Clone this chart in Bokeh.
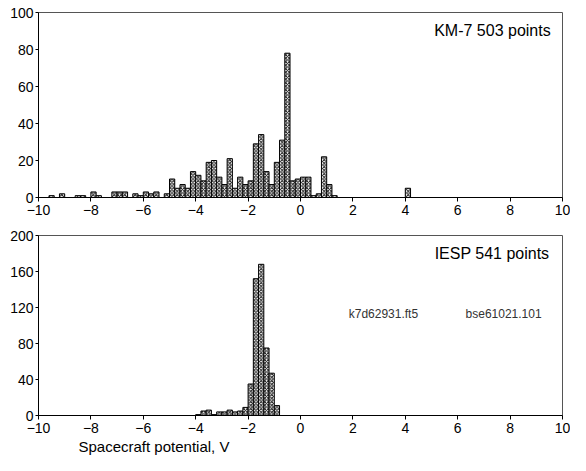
from bokeh.plotting import figure
from bokeh.layouts import column
from bokeh.models import Range1d, FixedTicker, Label, Title
from bokeh.embed import file_html
from bokeh.resources import INLINE

# --- data: bin centres (bin width 0.2 V) and counts ---
km7_centers = [-9.5, -9.1, -8.5, -8.3, -7.9, -7.7, -7.1, -6.9, -6.7, -6.3, -6.1, -5.9,
               -5.7, -5.5, -5.1, -4.9, -4.7, -4.5, -4.3, -4.1, -3.9, -3.7, -3.5, -3.3,
               -3.1, -2.9, -2.7, -2.5, -2.3, -2.1, -1.9, -1.7, -1.5, -1.3, -1.1, -0.9,
               -0.7, -0.5, -0.3, -0.1, 0.1, 0.3, 0.5, 0.7, 0.9, 1.1, 1.3, 4.1]
km7_counts = [1, 2, 1, 1, 3, 1, 3, 3, 3, 2, 1, 3,
              2, 3, 2, 10, 5, 7, 5, 14, 12, 9, 19, 20,
              11, 7, 21, 5, 11, 7, 9, 29, 34, 14, 7, 19,
              31, 78, 9, 10, 11, 11, 1, 2, 22, 7, 1, 5]

iesp_centers = [-3.9, -3.7, -3.5, -3.3, -3.1, -2.9, -2.7, -2.5, -2.3, -2.1,
                -1.9, -1.7, -1.5, -1.3, -1.1, -0.9]
iesp_counts = [1, 5, 6, 1, 4, 4, 6, 4, 5, 9,
               35, 152, 168, 75, 47, 11]

bin_width = 0.2
x_ticks = [-10, -8, -6, -4, -2, 0, 2, 4, 6, 8, 10]
km7_y_ticks = [0, 20, 40, 60, 80, 100]
iesp_y_ticks = [0, 40, 80, 120, 160, 200]

km7_title = "KM-7 503 points"
iesp_title = "IESP 541 points"
file1 = "k7d62931.ft5"
file2 = "bse61021.101"
x_label = "Spacecraft potential, V"

FONT = "Liberation Sans"


def make_fig(height, ymax, yticks, border_top, border_bottom):
    p = figure(width=570, height=height, output_backend="svg", toolbar_location=None,
               x_range=Range1d(-10, 10), y_range=Range1d(0, ymax),
               min_border_left=38, min_border_right=8,
               min_border_top=border_top, min_border_bottom=border_bottom)
    p.grid.visible = False
    p.outline_line_color = "#555555"
    p.outline_line_width = 1
    p.background_fill_color = "white"
    p.border_fill_color = "white"
    for ax in (p.xaxis[0], p.yaxis[0]):
        ax.axis_line_color = "black"
        ax.major_tick_line_color = "black"
        ax.minor_tick_line_color = None
        ax.major_label_text_font = FONT
        ax.major_label_text_font_size = "14px"
        ax.major_label_text_color = "black"
        ax.major_tick_in = 0
    p.xaxis.ticker = FixedTicker(ticks=x_ticks)
    p.yaxis.ticker = FixedTicker(ticks=yticks)
    p.xaxis.major_tick_out = 4
    p.xaxis.major_label_standoff = 3
    p.yaxis.major_tick_out = 3
    p.yaxis.major_label_standoff = 2
    return p


def bars(p, centers, counts):
    p.vbar(x=centers, width=bin_width, top=counts, bottom=0,
           fill_color="white", line_color="black", line_width=1,
           hatch_pattern="diagonal_cross", hatch_scale=3.5, hatch_weight=1,
           hatch_color="#111111")


top = make_fig(228, 100, km7_y_ticks, 12, 31)
bars(top, km7_centers, km7_counts)
top.add_layout(Label(x=9.55, y=94.6, text=km7_title, text_align="right",
                     text_baseline="top", text_font=FONT, text_font_size="16px",
                     text_color="black"))

bot = make_fig(227, 200, iesp_y_ticks, 7, 40)
bars(bot, iesp_centers, iesp_counts)
bot.add_layout(Label(x=9.5, y=190, text=iesp_title, text_align="right",
                     text_baseline="top", text_font=FONT, text_font_size="16px",
                     text_color="black"))
bot.add_layout(Label(x=1.84, y=113, text=file1, text_align="left",
                     text_baseline="alphabetic", text_font=FONT,
                     text_font_size="12px", text_color="#333333"))
bot.add_layout(Label(x=6.3, y=113, text=file2, text_align="left",
                     text_baseline="alphabetic", text_font=FONT,
                     text_font_size="12px", text_color="#333333"))
bot.add_layout(Title(text=x_label, align="left", offset=40, standoff=0,
                     text_font=FONT, text_font_size="15px",
                     text_font_style="normal", text_color="black"), "below")

layout = column(top, bot, spacing=0)
open("out.html", "w").write(file_html(layout, INLINE))
